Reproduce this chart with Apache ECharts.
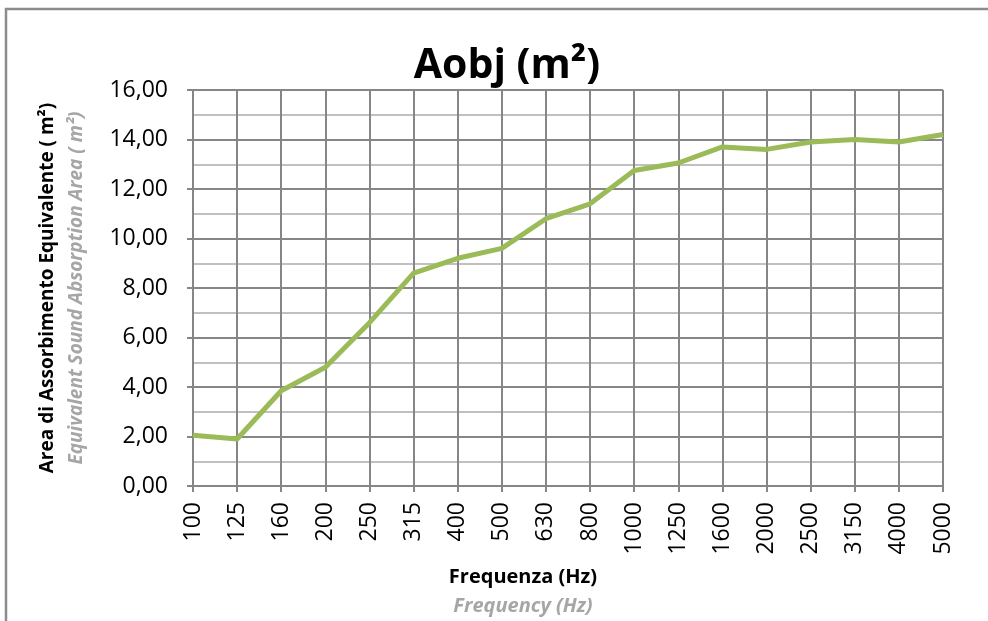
<!DOCTYPE html>
<html>
<head>
<meta charset="utf-8">
<script src="https://cdn.jsdelivr.net/npm/echarts@6/dist/echarts.min.js"></script>
<style>
  html, body { margin: 0; padding: 0; background: #fff; }
  #chart { width: 988px; height: 621px; }
</style>
</head>
<body>
<div id="chart"></div>
<script>
// frequenze (Hz)
var frequencies = ["100", "125", "160", "200", "250", "315", "400", "500", "630", "800",
  "1000", "1250", "1600", "2000", "2500", "3150", "4000", "5000"];
// Aobj (m2)
var aobj = [2.05, 1.9, 3.85, 4.8, 6.6, 8.6, 9.2, 9.6, 10.8, 11.4,
  12.75, 13.05, 13.7, 13.6, 13.9, 14.0, 13.9, 14.2];

var yMin = 0, yMax = 16, yStep = 2;

var chart = echarts.init(document.getElementById("chart"));

var option = {
  backgroundColor: "#fff",
  animation: false,
  textStyle: { fontFamily: "Open Sans" },
  title: {
    text: "Aobj (m²)",
    left: 502,
    top: 41,
    textAlign: "center",
    textStyle: { fontFamily: "Open Sans", fontWeight: "bold", fontSize: 41, color: "#000" }
  },
  grid: { left: 193, right: 45, top: 90, bottom: 135, outerBoundsMode: "none" },
  xAxis: {
    type: "category",
    data: frequencies,
    boundaryGap: false,
    axisLine: { lineStyle: { color: "#868686", width: 2 } },
    axisTick: { length: 6, lineStyle: { color: "#868686", width: 2 } },
    axisLabel: { rotate: 90, margin: 16, fontSize: 23, color: "#000", interval: 0 },
    splitLine: { show: true, lineStyle: { color: "#868686", width: 2 } },
    name: "{a|Frequenza (Hz)}\n{b|Frequency (Hz)}",
    nameLocation: "middle",
    nameGap: 77,
    nameTextStyle: {
      lineHeight: 29,
      padding: [0, 90, 0, 0],
      rich: {
        a: { fontSize: 20, fontWeight: "bold", color: "#000", lineHeight: 29 },
        b: { fontSize: 20, fontWeight: "bold", fontStyle: "italic", color: "#a6a6a6", lineHeight: 29 }
      }
    }
  },
  yAxis: {
    type: "value",
    min: yMin,
    max: yMax,
    interval: yStep,
    axisLine: { show: true, lineStyle: { color: "#868686", width: 2 } },
    axisTick: { show: true, length: 6, lineStyle: { color: "#868686", width: 2 } },
    axisLabel: {
      margin: 25,
      fontSize: 23,
      color: "#000",
      formatter: function (v) { return v.toFixed(2).replace(".", ","); }
    },
    splitLine: { lineStyle: { color: "#868686", width: 2 } },
    minorTick: { show: false, splitNumber: 2 },
    minorSplitLine: { show: true, lineStyle: { color: "#c0c0c0", width: 2 } },
    name: "{a|Area di Assorbimento Equivalente ( m²)}\n{b|Equivalent Sound Absorption Area ( m²)}",
    nameLocation: "middle",
    nameRotate: 90,
    nameGap: 102,
    nameTextStyle: {
      lineHeight: 29,
      rich: {
        a: { fontSize: 19, fontWeight: "bold", color: "#000", lineHeight: 29 },
        b: { fontSize: 19, fontWeight: "bold", fontStyle: "italic", color: "#a6a6a6", lineHeight: 29 }
      }
    }
  },
  series: [{
    type: "line",
    data: aobj,
    symbol: "none",
    lineStyle: { color: "#9bbb59", width: 5 },
    z: 5
  }],
  graphic: [{
    type: "rect",
    shape: { x: 6, y: 9, width: 1100, height: 800 },
    style: { fill: null, stroke: "#8c8c8c", lineWidth: 2.5 },
    silent: true
  }]
};

chart.setOption(option);
</script>
</body>
</html>
